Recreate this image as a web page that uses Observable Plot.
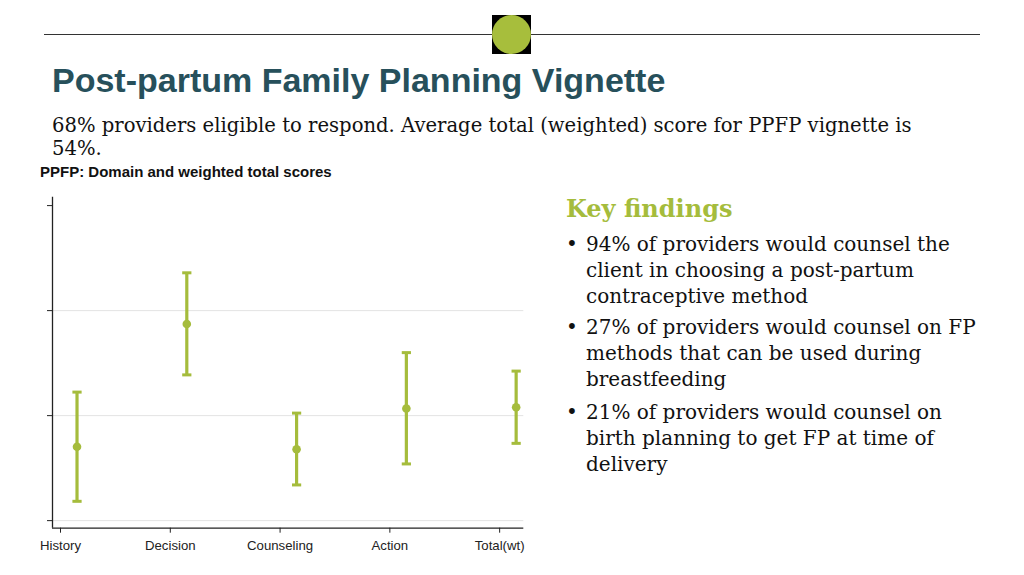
<!DOCTYPE html>
<html>
<head>
<meta charset="utf-8">
<script src="https://cdn.jsdelivr.net/npm/d3@7"></script>
<script src="https://cdn.jsdelivr.net/npm/@observablehq/plot@0.6"></script>
<style>
  html, body { margin: 0; padding: 0; background: #fff; }
  body { width: 1024px; height: 575px; position: relative; overflow: hidden; }
  .abs { position: absolute; }
  #hline { left: 44px; top: 34px; width: 936px; height: 0; border-top: 1.5px solid #333; }
  #badge { left: 492px; top: 15px; width: 39px; height: 39px; background: #000; }
  #badge div { width: 39px; height: 39px; border-radius: 50%; background: #a7be3c; }
  #title { left: 52px; top: 61px; font: bold 34px "Liberation Sans", Arial, sans-serif; color: #27505b; white-space: nowrap; }
  #sub { left: 52px; top: 114px; font: 19.6px "DejaVu Serif", serif; line-height: 23px; color: #111; white-space: nowrap; }
  #ctitle { left: 40px; top: 163px; font: bold 15px "Liberation Sans", Arial, sans-serif; color: #111; white-space: nowrap; }
  #kf { left: 566px; top: 194px; font: bold 24px "DejaVu Serif", serif; color: #a5bc3c; white-space: nowrap; }
  .bul { left: 566px; font: 20px "DejaVu Serif", serif; line-height: 26px; color: #111; white-space: nowrap; }
  .bul span.b { position: absolute; left: 0; }
  .bul span.t { display: block; margin-left: 20px; }
  #chart { left: 0; top: 180px; }
</style>
</head>
<body>
<div id="hline" class="abs"></div>
<div id="badge" class="abs"><div></div></div>
<div id="title" class="abs">Post-partum Family Planning Vignette</div>
<div id="sub" class="abs">68% providers eligible to respond. Average total (weighted) score for PPFP vignette is<br>54%.</div>
<div id="ctitle" class="abs">PPFP: Domain and weighted total scores</div>
<div id="kf" class="abs">Key findings</div>
<div class="abs bul" style="top:231px"><span class="b">•</span><span class="t">94% of providers would counsel the<br>client in choosing a post-partum<br>contraceptive method</span></div>
<div class="abs bul" style="top:314px"><span class="b">•</span><span class="t">27% of providers would counsel on FP<br>methods that can be used during<br>breastfeeding</span></div>
<div class="abs bul" style="top:399px"><span class="b">•</span><span class="t">21% of providers would counsel on<br>birth planning to get FP at time of<br>delivery</span></div>
<div id="chart" class="abs"></div>
<script>
const categories = ["History", "Decision", "Counseling", "Action", "Total(wt)"];
const meanScore = [42.6, 71.8, 42.0, 51.7, 52.0];
const lowerCI   = [29.6, 59.7, 33.5, 38.5, 43.4];
const upperCI   = [55.6, 84.0, 50.6, 65.0, 60.6];
const yTicks = [25, 50, 75, 100];
const yGrid = [25, 50, 75];

const data = categories.map((c, i) => ({ pos: i + 1, cat: c, mean: meanScore[i], lo: lowerCI[i], hi: upperCI[i] }));

const green = "#a5bc3c";
const xDomain = [0.927, 5.22];
const yDomain = [23.2, 102];
const capSymbol = { draw(ctx, size) { const w = Math.sqrt(size); ctx.moveTo(-w, 0); ctx.lineTo(w, 0); } };
const OFF = 16.5;

const chart = Plot.plot({
  width: 540,
  height: 380,
  marginLeft: 52,
  marginRight: 16.7,
  marginTop: 16.7,
  marginBottom: 32.3,
  style: { fontFamily: "'Liberation Sans', Arial, sans-serif", fontSize: "13px", color: "#222", background: "transparent" },
  x: { domain: xDomain, axis: null },
  y: { domain: yDomain, axis: null },
  marks: [
    Plot.gridY(yGrid, { stroke: "#e3e3e3", strokeOpacity: 1, strokeWidth: 1 }),
    Plot.ruleX([xDomain[0]], { stroke: "#222", strokeWidth: 1.3 }),
    Plot.ruleY([yDomain[0]], { stroke: "#222", strokeWidth: 1.3 }),
    Plot.axisY({ ticks: yTicks, tickFormat: () => "", tickSize: 5, stroke: "#222", label: null }),
    Plot.axisX({ ticks: [1, 2, 3, 4, 5], tickFormat: (d) => categories[d - 1], tickSize: 5, tickPadding: 7, fontSize: 13.2, fill: "#222", stroke: "#222", label: null }),
    Plot.ruleX(data, { x: "pos", y1: "lo", y2: "hi", dx: OFF, stroke: green, strokeWidth: 3.2 }),
    Plot.dot(data, { x: "pos", y: "lo", dx: OFF, symbol: capSymbol, r: 2.6, stroke: green, strokeWidth: 3, fill: "none" }),
    Plot.dot(data, { x: "pos", y: "hi", dx: OFF, symbol: capSymbol, r: 2.6, stroke: green, strokeWidth: 3, fill: "none" }),
    Plot.dot(data, { x: "pos", y: "mean", dx: OFF, r: 4.3, fill: green, stroke: "none" })
  ]
});
document.getElementById("chart").appendChild(chart);
</script>
</body>
</html>
